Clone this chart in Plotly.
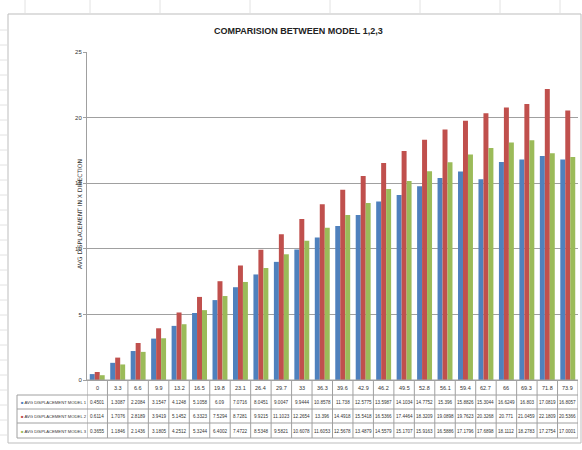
import plotly.graph_objects as go

categories = ["0", "3.3", "6.6", "9.9", "13.2", "16.5", "19.8", "23.1", "26.4", "29.7", "33", "36.3",
              "39.6", "42.9", "46.2", "49.5", "52.8", "56.1", "59.4", "62.7", "66", "69.3", "71.8", "73.9"]
model1 = [0.4501, 1.3087, 2.2084, 3.1547, 4.1248, 5.1058, 6.09, 7.0716, 8.0451, 9.0047, 9.9444, 10.8578,
          11.738, 12.5775, 13.5987, 14.1034, 14.7752, 15.3960, 15.8826, 15.3044, 16.6249, 16.803, 17.0819, 16.8057]
model2 = [0.6114, 1.7076, 2.8189, 3.9419, 5.1452, 6.3323, 7.5294, 8.7281, 9.9215, 11.1023, 12.2654, 13.396,
          14.4918, 15.5418, 16.5366, 17.4464, 18.3209, 19.0898, 19.7623, 20.3268, 20.771, 21.0459, 22.1809, 20.5366]
model3 = [0.3655, 1.1846, 2.1436, 3.1805, 4.2512, 5.3244, 6.4002, 7.4722, 8.5348, 9.5821, 10.6078, 11.6053,
          12.5678, 13.4879, 14.5579, 15.1707, 15.9163, 16.5886, 17.1796, 17.6898, 18.1112, 18.2783, 17.2754, 17.0001]
series_names = ["AVG DISPLACEMENT MODEL 1", "AVG DISPLACEMENT MODEL 2", "AVG DISPLACEMENT MODEL 3"]
series_values = [model1, model2, model3]
colors = ["#4F81BD", "#C0504D", "#9BBB59"]
y_ticks = [0, 5, 10, 15, 20, 25]

W, H = 582, 450
L, R, T, B = 87, 578, 52, 380
PW, PH = R - L, B - T

def px(p):
    return (p - L) / PW

def py(p):
    return (B - p) / PH

fig = go.Figure()
for name, vals, c in zip(series_names, series_values, colors):
    fig.add_trace(go.Bar(x=categories, y=vals, name=name, marker=dict(color=c, line=dict(width=0))))

FONT = "Liberation Sans Narrow, Arial Narrow, Liberation Sans, sans-serif"
shapes = []
ann = []
GRID = "#A0A0A0"

# chart frame
shapes.append(dict(type="rect", xref="paper", yref="paper", x0=px(8), x1=px(581), y0=py(443), y1=py(14),
                   line=dict(color="#BDBDBD", width=1), fillcolor="rgba(0,0,0,0)", layer="below"))
# faint spreadsheet grid outside the frame
for yy in range(30, 440, 15):
    shapes.append(dict(type="line", xref="paper", yref="paper", x0=px(0), x1=px(7), y0=py(yy), y1=py(yy),
                       line=dict(color="#E2E2E2", width=1)))
for xx in [25, 90, 160, 250, 330, 420, 500, 560]:
    shapes.append(dict(type="line", xref="paper", yref="paper", x0=px(xx), x1=px(xx), y0=py(0), y1=py(13),
                       line=dict(color="#E2E2E2", width=1)))

# data table
row_lines = [380, 395, 409, 423, 438]
row_centers = [388, 402, 416, 431]
n = len(categories)
for i, yy in enumerate(row_lines):
    x0 = px(17) if i >= 1 else px(L)
    shapes.append(dict(type="line", xref="paper", yref="paper", x0=x0, x1=1, y0=py(yy), y1=py(yy),
                       line=dict(color=GRID, width=1)))
for k in range(n + 1):
    shapes.append(dict(type="line", xref="x", yref="paper", x0=k - 0.5, x1=k - 0.5, y0=py(438), y1=py(380),
                       line=dict(color=GRID, width=1)))
shapes.append(dict(type="line", xref="paper", yref="paper", x0=px(17), x1=px(17), y0=py(438), y1=py(395),
                   line=dict(color=GRID, width=1)))

for k, cat in enumerate(categories):
    ann.append(dict(x=k, y=py(row_centers[0]), xref="x", yref="paper", text=cat, showarrow=False,
                    xanchor="center", yanchor="middle", font=dict(size=5.5, color="#333333", family=FONT)))
for r, (name, vals, c) in enumerate(zip(series_names, series_values, colors)):
    yc = py(row_centers[r + 1])
    ann.append(dict(x=px(19), y=yc, xref="paper", yref="paper", text=f"<span style='color:{c}'>■</span> {name}",
                    showarrow=False, xanchor="left", yanchor="middle",
                    font=dict(size=4.2, color="#333333", family=FONT)))
    for k, v in enumerate(vals):
        ann.append(dict(x=k, y=yc, xref="x", yref="paper", text=f"{v:g}", showarrow=False,
                        xanchor="center", yanchor="middle", font=dict(size=4.6, color="#333333", family=FONT)))

ann.append(dict(x=px(79), y=py(214), xref="paper", yref="paper", text="AVG DISPLACEMENT IN X DIRECTION",
                textangle=-90, showarrow=False, xanchor="center", yanchor="middle",
                font=dict(size=6, color="#333333", family="DejaVu Sans")))
ann.append(dict(x=px(298), y=py(31), xref="paper", yref="paper", text="<b>COMPARISION BETWEEN MODEL 1,2,3</b>",
                showarrow=False, xanchor="center", yanchor="middle", font=dict(size=9, color="#222222", family=FONT)))

fig.update_layout(
    width=W, height=H,
    margin=dict(l=L, r=W - R, t=T, b=H - B, pad=0),
    paper_bgcolor="white", plot_bgcolor="white",
    barmode="group", bargap=0.27, bargroupgap=0,
    showlegend=False,
    shapes=shapes, annotations=ann,
    xaxis=dict(type="category", range=[-0.5, n - 0.5], autorange=False, showticklabels=False,
               showgrid=False, zeroline=False, showline=True, linecolor=GRID, linewidth=1, ticks=""),
    yaxis=dict(range=[0, 25], tickvals=y_ticks, showgrid=True, gridcolor=GRID, gridwidth=1,
               zeroline=False, showline=True, linecolor=GRID, linewidth=1, ticks="outside",
               ticklen=3, tickcolor=GRID, tickfont=dict(size=6, color="#333333", family=FONT)),
)
fig.write_html("out.html", config={"displayModeBar": False},
               post_script="document.body.style.margin='0';document.body.style.overflow='hidden';")
